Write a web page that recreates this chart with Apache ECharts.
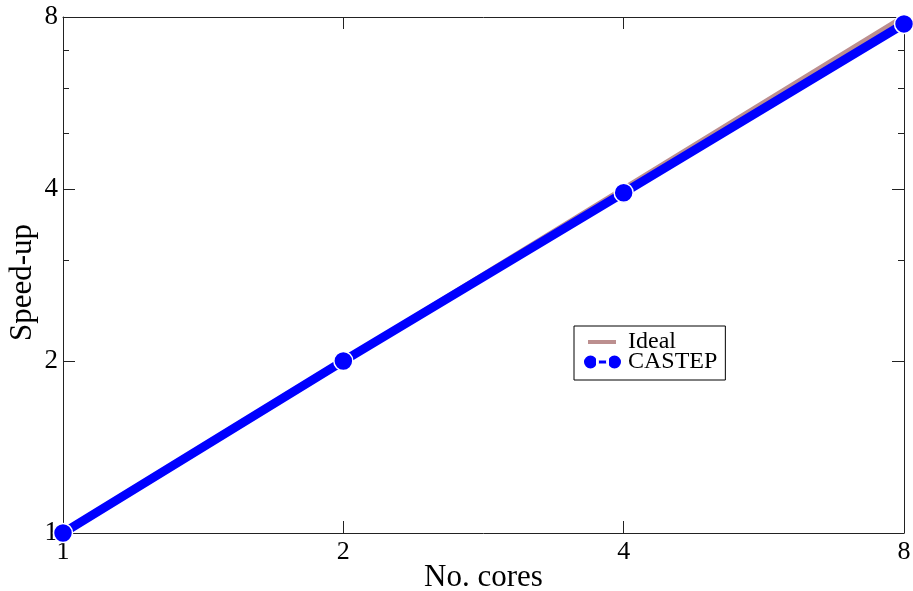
<!DOCTYPE html>
<html>
<head>
<meta charset="utf-8">
<script src="https://cdn.jsdelivr.net/npm/echarts@6/dist/echarts.min.js"></script>
<style>
  html, body { margin: 0; padding: 0; background: #fff; }
  #chart { width: 913px; height: 591px; }
</style>
</head>
<body>
<div id="chart"></div>
<script>
// data
const cores = [1, 2, 4, 8];
const idealSpeedup = [1, 2, 4, 8];
const castepSpeedup = [1, 2.0, 3.94, 7.78];
const majorTicks = [1, 2, 4, 8];
const yMinorTicks = [3, 5, 6, 7];

const FONT = '"Liberation Serif", "DejaVu Serif", serif';

const chart = echarts.init(document.getElementById('chart'));

const logAxis = {
  type: 'log',
  logBase: 2,
  min: 1,
  max: 8,
  splitLine: { show: false },
  axisLine: { show: true, lineStyle: { color: '#222', width: 1 } },
  axisTick: { show: true, inside: true, length: 12, lineStyle: { color: '#222' } },
  axisLabel: { show: false }
};

function ax(extra) {
  return echarts.util.merge(echarts.util.clone(logAxis), extra, true);
}

chart.setOption({
  animation: false,
  backgroundColor: '#fff',
  grid: { left: 63, right: 9, top: 17, bottom: 58, containLabel: false, outerBoundsMode: 'none' },
  legend: {
    orient: 'vertical',
    left: 574,
    top: 326,
    padding: [4, 8, 6, 8],
    itemGap: -4,
    itemWidth: 40,
    itemHeight: 15,
    backgroundColor: '#fff',
    borderColor: '#000',
    borderWidth: 1,
    borderRadius: 0,
    textStyle: { fontFamily: FONT, fontSize: 24, color: '#000', lineHeight: 20 },
    data: [
      { name: 'Ideal', icon: 'path://M0,0 M40,15 M5,5.5 L33,5.5 L33,9.5 L5,9.5 Z' },
      { name: 'CASTEP', icon: 'path://M0,7.5 A7.5,7.5 0 1,0 15,7.5 A7.5,7.5 0 1,0 0,7.5 Z M24,7.5 A7.5,7.5 0 1,0 39,7.5 A7.5,7.5 0 1,0 24,7.5 Z M14,5 L25,5 L25,10 L14,10 Z M0,0 M40,15' }
    ]
  },
  xAxis: [
    ax({
      position: 'bottom',
      name: 'No. cores',
      nameLocation: 'middle',
      nameGap: 29,
      nameMoveOverlap: false,
      nameTextStyle: { fontFamily: FONT, fontSize: 31, color: '#000' },
      axisTick: { customValues: majorTicks },
      axisLabel: { show: true, customValues: majorTicks, margin: 6, fontFamily: FONT, fontSize: 26, color: '#000' }
    }),
    ax({ position: 'top', axisTick: { customValues: majorTicks } })
  ],
  yAxis: [
    ax({
      position: 'left',
      name: 'Speed-up',
      nameLocation: 'middle',
      nameGap: 25,
      nameMoveOverlap: false,
      nameTextStyle: { fontFamily: FONT, fontSize: 31, color: '#000', padding: [0, 15, 0, 0] },
      axisTick: { customValues: majorTicks },
      axisLabel: { show: true, customValues: majorTicks, margin: 5, fontFamily: FONT, fontSize: 27, color: '#000' }
    }),
    ax({ position: 'left', axisLine: { show: false }, axisTick: { length: 6, customValues: yMinorTicks } }),
    ax({ position: 'right', axisTick: { customValues: majorTicks } }),
    ax({ position: 'right', axisLine: { show: false }, axisTick: { length: 6, customValues: yMinorTicks } })
  ],
  series: [
    {
      name: 'Ideal',
      type: 'line',
      data: cores.map((c, i) => [c, idealSpeedup[i]]),
      showSymbol: false,
      symbol: 'none',
      clip: false,
      color: '#bc8f8f',
      lineStyle: { color: '#bc8f8f', width: 6 },
      z: 2
    },
    {
      name: 'CASTEP',
      type: 'line',
      data: cores.map((c, i) => [c, castepSpeedup[i]]),
      symbol: 'circle',
      symbolSize: 19,
      clip: false,
      color: '#0000ff',
      itemStyle: { color: '#0000ff', borderColor: '#fff', borderWidth: 1.5 },
      lineStyle: { color: '#0000ff', width: 9 },
      z: 3
    }
  ]
});
</script>
</body>
</html>
